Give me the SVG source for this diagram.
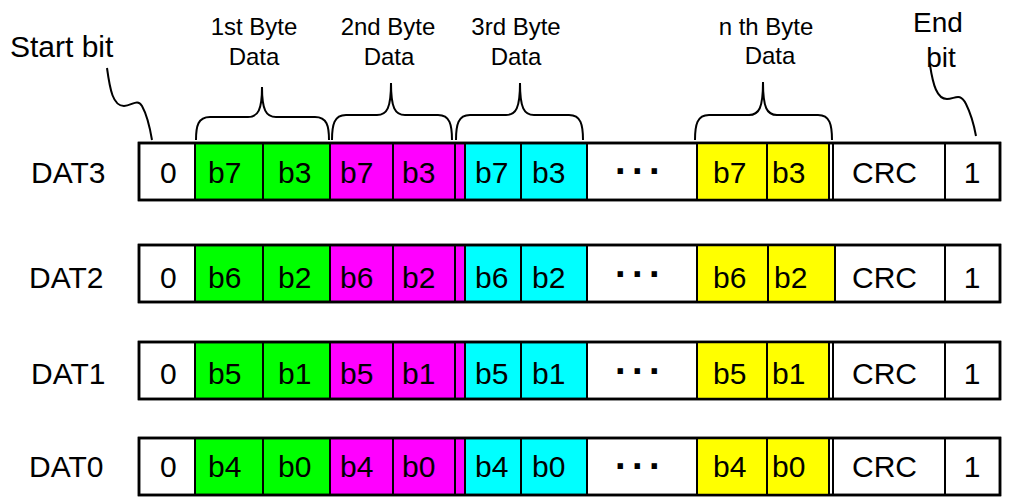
<svg xmlns="http://www.w3.org/2000/svg" width="1024" height="497" viewBox="0 0 1024 497">
<style>
text{font-family:"Liberation Sans",Arial,sans-serif;fill:#000}
.lbl{font-size:30px}
.hd{font-size:24px;text-anchor:middle}
.cell{stroke:#000;stroke-width:2}
.w{fill:#fff}.g{fill:#00ff00}.m{fill:#ff00ff}.c{fill:#00ffff}.y{fill:#ffff00}
.thin{stroke:#000;stroke-width:1}
.outer{fill:none;stroke:#000;stroke-width:2.5}
.dots{font-size:38px;font-weight:bold;letter-spacing:6.5px}
.ln{fill:none;stroke:#000;stroke-width:2}
</style>
<defs>
<g id="rowcells">
<rect class="cell w" x="139" y="0" width="56" height="57"/>
<rect class="cell g" x="195" y="0" width="68" height="57"/>
<rect class="cell g" x="263" y="0" width="67" height="57"/>
<rect class="cell m" x="330" y="0" width="63" height="57"/>
<rect class="cell m" x="393" y="0" width="62" height="57"/>
<rect class="cell m" x="455" y="0" width="10" height="57"/>
<rect class="cell c" x="465" y="0" width="56" height="57"/>
<rect class="cell c" x="521" y="0" width="66" height="57"/>
<rect class="cell w" x="587" y="0" width="110" height="57"/>
<rect class="cell w" x="833" y="0" width="112" height="57"/>
<rect class="cell w" x="945" y="0" width="55" height="57"/>
<rect class="outer" x="139" y="0" width="861" height="57"/>
</g>
</defs>

<g id="header-labels">
<g id="start-bit-label"><text class="lbl" x="10" y="57">Start bit</text></g>
<g id="byte1-label"><text class="hd" x="254" y="35">1st Byte</text><text class="hd" x="254" y="65">Data</text></g>
<g id="byte2-label"><text class="hd" x="388" y="35">2nd Byte</text><text class="hd" x="389" y="65">Data</text></g>
<g id="byte3-label"><text class="hd" x="516" y="35">3rd Byte</text><text class="hd" x="516" y="65">Data</text></g>
<g id="byten-label"><text class="hd" x="766" y="35">n th Byte</text><text class="hd" x="770" y="64">Data</text></g>
<g id="end-bit-label"><text x="938" y="32" text-anchor="middle" style="font-size:28px">End</text><text x="941" y="67" text-anchor="middle" style="font-size:28px">bit</text></g>
</g>

<g id="braces">
<path class="ln" d="M196,140 C196,126 198,117 210,117 L248,117 C258,117 262,110 262,87 C262,110 266,117 276,117 L315,117 C327,117 329,126 329,140"/>
<path class="ln" d="M332,140 C332,125 334,115 346,115 L377,115 C387,115 391,108 391,83 C391,108 395,115 405,115 L438,115 C450,115 452,125 452,140"/>
<path class="ln" d="M456,140 C456,125 458,115 470,115 L506,115 C516,115 520,108 520,83 C520,108 524,115 534,115 L569,115 C581,115 583,125 583,140"/>
<path class="ln" d="M695,140 C695,125 697,115 709,115 L749,115 C759,115 763,108 763,82 C763,108 767,115 777,115 L818,115 C830,115 832,125 832,140"/>
</g>

<g id="connectors">
<path class="ln" d="M107,68 C110,90 113,106 124,106 C132,106 137,98 142,106 C147,115 150,128 152,140"/>
<path class="ln" d="M930,65 C933,85 937,99 947,99 C955,99 960,92 966,104 C971,114 974,125 976,136"/>
</g>

<g id="row-dat3">
<text class="lbl" x="31" y="183">DAT3</text>
<use href="#rowcells" y="143"/>
<rect class="cell y" x="697" y="143" width="70" height="57"/>
<rect class="cell y" x="767" y="143" width="62" height="57"/>
<line class="thin" x1="833" y1="143" x2="833" y2="200"/>
<rect class="outer" x="139" y="143" width="861" height="57"/>
<text class="lbl" x="160" y="183">0</text>
<text class="lbl" x="208" y="183">b7</text><text class="lbl" x="278" y="183">b3</text>
<text class="lbl" x="340" y="183">b7</text><text class="lbl" x="402" y="183">b3</text>
<text class="lbl" x="475" y="183">b7</text><text class="lbl" x="532" y="183">b3</text>
<text class="dots" x="615" y="174">...</text>
<text class="lbl" x="713" y="183">b7</text><text class="lbl" x="772" y="183">b3</text>
<text class="lbl" x="852" y="183">CRC</text>
<text class="lbl" x="972" y="183" text-anchor="middle">1</text>
</g>

<g id="row-dat2">
<text class="lbl" x="29" y="288">DAT2</text>
<use href="#rowcells" y="245"/>
<rect class="cell y" x="697" y="245" width="71" height="57"/>
<rect class="cell y" x="768" y="245" width="67" height="57"/>
<rect class="outer" x="139" y="245" width="861" height="57"/>
<text class="lbl" x="160" y="288">0</text>
<text class="lbl" x="208" y="288">b6</text><text class="lbl" x="278" y="288">b2</text>
<text class="lbl" x="340" y="288">b6</text><text class="lbl" x="402" y="288">b2</text>
<text class="lbl" x="475" y="288">b6</text><text class="lbl" x="532" y="288">b2</text>
<text class="dots" x="615" y="277">...</text>
<text class="lbl" x="713" y="288">b6</text><text class="lbl" x="774" y="288">b2</text>
<text class="lbl" x="852" y="288">CRC</text>
<text class="lbl" x="972" y="288" text-anchor="middle">1</text>
</g>

<g id="row-dat1">
<text class="lbl" x="31" y="384">DAT1</text>
<use href="#rowcells" y="342"/>
<rect class="cell y" x="697" y="342" width="70" height="57"/>
<rect class="cell y" x="767" y="342" width="62" height="57"/>
<line class="thin" x1="833" y1="342" x2="833" y2="399"/>
<rect class="outer" x="139" y="342" width="861" height="57"/>
<text class="lbl" x="160" y="384">0</text>
<text class="lbl" x="208" y="384">b5</text><text class="lbl" x="278" y="384">b1</text>
<text class="lbl" x="340" y="384">b5</text><text class="lbl" x="402" y="384">b1</text>
<text class="lbl" x="475" y="384">b5</text><text class="lbl" x="532" y="384">b1</text>
<text class="dots" x="615" y="374">...</text>
<text class="lbl" x="713" y="384">b5</text><text class="lbl" x="772" y="384">b1</text>
<text class="lbl" x="852" y="384">CRC</text>
<text class="lbl" x="972" y="384" text-anchor="middle">1</text>
</g>

<g id="row-dat0">
<text class="lbl" x="29" y="477">DAT0</text>
<use href="#rowcells" y="438"/>
<rect class="cell y" x="697" y="438" width="70" height="57"/>
<rect class="cell y" x="767" y="438" width="62" height="57"/>
<line class="thin" x1="833" y1="438" x2="833" y2="495"/>
<rect class="outer" x="139" y="438" width="861" height="57"/>
<text class="lbl" x="160" y="477">0</text>
<text class="lbl" x="208" y="477">b4</text><text class="lbl" x="278" y="477">b0</text>
<text class="lbl" x="340" y="477">b4</text><text class="lbl" x="402" y="477">b0</text>
<text class="lbl" x="475" y="477">b4</text><text class="lbl" x="532" y="477">b0</text>
<text class="dots" x="615" y="469">...</text>
<text class="lbl" x="713" y="477">b4</text><text class="lbl" x="772" y="477">b0</text>
<text class="lbl" x="852" y="477">CRC</text>
<text class="lbl" x="972" y="477" text-anchor="middle">1</text>
</g>
</svg>
